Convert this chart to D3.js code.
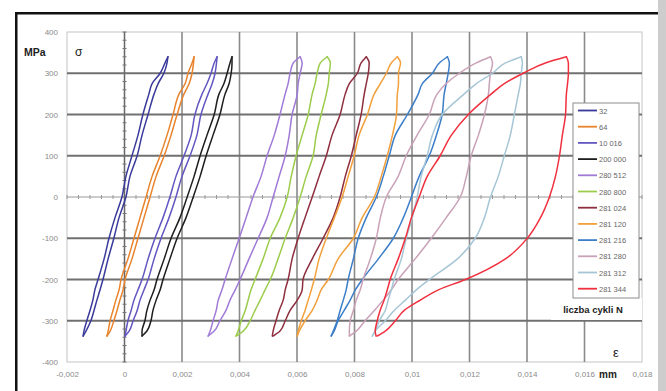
<!DOCTYPE html>
<html><head><meta charset="utf-8">
<script src="https://cdn.jsdelivr.net/npm/d3@7"></script>
<style>body{margin:0;background:#fff}svg{display:block}text{font-family:"Liberation Sans",Arial,sans-serif}</style>
</head><body><svg id="c" width="666" height="391"></svg>
<script>
// ---- data (strain in mm/mm, stress in MPa) ----
const stressLevels = [-337, -325, -300, -275, -250, -225, -200, -150, -100, -50, 0, 50, 100, 150, 200, 250, 275, 300, 325, 340];
const cycles = ["32", "64", "10 016", "200 000", "280 512", "280 800", "281 024", "281 120", "281 216", "281 280", "281 312", "281 344"];
const colors = ["#3a3a9c", "#e8842c", "#6256c0", "#1e1e1e", "#a07ad6", "#9ccc4c", "#8e2e3e", "#f2a03c", "#3c7ec8", "#c9a2b8", "#a6c6d6", "#f0303e"];

const load32   = [-0.00144, -0.00134, -0.00117, -0.00106, -0.00096, -0.00085, -0.00075, -0.00057, -0.00037, -0.00019, 0.00005, 0.00019, 0.00044, 0.00061, 0.00082, 0.00103, 0.00117, 0.00137, 0.00148, 0.00151];
const unload32 = [-0.00144, -0.00141, -0.00131, -0.00120, -0.00110, -0.00103, -0.00092, -0.00071, -0.00054, -0.00033, -0.00009, 0.00005, 0.00026, 0.00047, 0.00064, 0.00085, 0.00096, 0.00124, 0.00141, 0.00151];
const load64   = [-0.00061, -0.00050, -0.00037, -0.00026, -0.00016, -0.00005, 0.00002, 0.00026, 0.00047, 0.00068, 0.00089, 0.00110, 0.00138, 0.00162, 0.00183, 0.00207, 0.00225, 0.00235, 0.00240, 0.00242];
const unload64 = [-0.00061, -0.00057, -0.00050, -0.00040, -0.00030, -0.00019, -0.00012, 0.00012, 0.00033, 0.00054, 0.00075, 0.00096, 0.00124, 0.00148, 0.00169, 0.00190, 0.00211, 0.00221, 0.00235, 0.00242];
const load10016   = [0.00002, 0.00016, 0.00030, 0.00044, 0.00054, 0.00068, 0.00082, 0.00103, 0.00127, 0.00155, 0.00179, 0.00200, 0.00228, 0.00252, 0.00266, 0.00291, 0.00305, 0.00315, 0.00320, 0.00322];
const unload10016 = [0.00002, 0.00005, 0.00012, 0.00023, 0.00033, 0.00047, 0.00061, 0.00082, 0.00106, 0.00134, 0.00158, 0.00179, 0.00207, 0.00232, 0.00245, 0.00270, 0.00287, 0.00301, 0.00312, 0.00322];
const load200000   = [0.00061, 0.00078, 0.00092, 0.00099, 0.00110, 0.00124, 0.00134, 0.00158, 0.00183, 0.00214, 0.00239, 0.00263, 0.00284, 0.00308, 0.00332, 0.00350, 0.00364, 0.00371, 0.00374, 0.00374];
const unload200000 = [0.00061, 0.00061, 0.00071, 0.00078, 0.00089, 0.00103, 0.00113, 0.00138, 0.00162, 0.00193, 0.00218, 0.00242, 0.00263, 0.00287, 0.00312, 0.00329, 0.00346, 0.00357, 0.00367, 0.00374];
const load280512   = [0.00291, 0.00312, 0.00332, 0.00353, 0.00367, 0.00385, 0.00402, 0.00433, 0.00465, 0.00496, 0.00517, 0.00538, 0.00559, 0.00573, 0.00583, 0.00601, 0.00604, 0.00611, 0.00618, 0.00611];
const unload280512 = [0.00291, 0.00298, 0.00308, 0.00319, 0.00326, 0.00339, 0.00350, 0.00374, 0.00399, 0.00423, 0.00447, 0.00475, 0.00496, 0.00521, 0.00541, 0.00559, 0.00569, 0.00576, 0.00587, 0.00611];
const load280800   = [0.00388, 0.00413, 0.00437, 0.00454, 0.00472, 0.00489, 0.00507, 0.00534, 0.00559, 0.00587, 0.00611, 0.00632, 0.00656, 0.00667, 0.00684, 0.00702, 0.00709, 0.00712, 0.00716, 0.00705];
const unload280800 = [0.00388, 0.00395, 0.00406, 0.00420, 0.00430, 0.00440, 0.00454, 0.00482, 0.00507, 0.00541, 0.00566, 0.00580, 0.00597, 0.00618, 0.00639, 0.00653, 0.00663, 0.00670, 0.00681, 0.00705];
const load281024   = [0.00517, 0.00541, 0.00559, 0.00576, 0.00601, 0.00618, 0.00621, 0.00653, 0.00691, 0.00726, 0.00750, 0.00768, 0.00789, 0.00806, 0.00823, 0.00834, 0.00841, 0.00848, 0.00851, 0.00841];
const unload281024 = [0.00514, 0.00517, 0.00527, 0.00538, 0.00552, 0.00559, 0.00569, 0.00583, 0.00604, 0.00628, 0.00653, 0.00677, 0.00702, 0.00722, 0.00750, 0.00768, 0.00782, 0.00810, 0.00823, 0.00841];
const load281120   = [0.00601, 0.00608, 0.00628, 0.00653, 0.00670, 0.00684, 0.00709, 0.00743, 0.00796, 0.00827, 0.00869, 0.00893, 0.00914, 0.00932, 0.00946, 0.00949, 0.00953, 0.00953, 0.00960, 0.00949];
const unload281120 = [0.00601, 0.00604, 0.00615, 0.00628, 0.00639, 0.00650, 0.00660, 0.00677, 0.00702, 0.00730, 0.00757, 0.00778, 0.00799, 0.00816, 0.00845, 0.00869, 0.00890, 0.00911, 0.00928, 0.00949];
const load281216   = [0.00719, 0.00729, 0.00743, 0.00764, 0.00785, 0.00803, 0.00827, 0.00883, 0.00935, 0.00970, 0.00998, 0.01025, 0.01060, 0.01085, 0.01105, 0.01112, 0.01119, 0.01126, 0.01130, 0.01123];
const unload281216 = [0.00719, 0.00726, 0.00740, 0.00750, 0.00761, 0.00771, 0.00778, 0.00796, 0.00813, 0.00841, 0.00876, 0.00900, 0.00921, 0.00942, 0.00984, 0.01022, 0.01036, 0.01071, 0.01095, 0.01123];
const load281280   = [0.00782, 0.00806, 0.00837, 0.00869, 0.00900, 0.00928, 0.00952, 0.01011, 0.01067, 0.01119, 0.01168, 0.01189, 0.01206, 0.01231, 0.01252, 0.01266, 0.01269, 0.01273, 0.01280, 0.01273];
const unload281280 = [0.00782, 0.00782, 0.00785, 0.00796, 0.00806, 0.00820, 0.00830, 0.00855, 0.00876, 0.00890, 0.00911, 0.00952, 0.00980, 0.01018, 0.01060, 0.01088, 0.01119, 0.01165, 0.01224, 0.01273];
const load281312   = [0.00862, 0.00872, 0.00907, 0.00938, 0.00977, 0.01015, 0.01060, 0.01158, 0.01220, 0.01252, 0.01273, 0.01300, 0.01321, 0.01342, 0.01356, 0.01370, 0.01377, 0.01380, 0.01384, 0.01380];
const unload281312 = [0.00862, 0.00872, 0.00886, 0.00907, 0.00917, 0.00928, 0.00938, 0.00963, 0.00980, 0.01001, 0.01018, 0.01032, 0.01053, 0.01071, 0.01105, 0.01182, 0.01224, 0.01280, 0.01325, 0.01380];
const load281344   = [0.00879, 0.00907, 0.00942, 0.00973, 0.01029, 0.01092, 0.01186, 0.01325, 0.01401, 0.01447, 0.01478, 0.01499, 0.01513, 0.01523, 0.01534, 0.01537, 0.01541, 0.01544, 0.01544, 0.01537];
const unload281344 = [0.00875, 0.00872, 0.00879, 0.00889, 0.00903, 0.00914, 0.00924, 0.00952, 0.00977, 0.00998, 0.01025, 0.01053, 0.01098, 0.01137, 0.01196, 0.01276, 0.01321, 0.01387, 0.01464, 0.01537];

const xTickValues = [-0.002, 0, 0.002, 0.004, 0.006, 0.008, 0.01, 0.012, 0.014, 0.016, 0.018];
const xTickLabels = ["-0,002", "0", "0,002", "0,004", "0,006", "0,008", "0,01", "0,012", "0,014", "0,016", "0,018"];
const yTickValues = [400, 300, 200, 100, 0, -100, -200, -300, -400];
const yTickLabels = ["400", "300", "200", "100", "0", "-100", "-200", "-300", "-400"];

const loads = [load32, load64, load10016, load200000, load280512, load280800, load281024, load281120, load281216, load281280, load281312, load281344];
const unloads = [unload32, unload64, unload10016, unload200000, unload280512, unload280800, unload281024, unload281120, unload281216, unload281280, unload281312, unload281344];

// ---- drawing ----
const svg = d3.select("#c");
const W = 666, H = 391;
const L = 67, R = 642, T = 32, B = 362;
const x = d3.scaleLinear().domain([-0.002, 0.018]).range([L, R]);
const y = d3.scaleLinear().domain([-400, 400]).range([B, T]);

svg.append("rect").attr("width", W).attr("height", H).attr("fill", "#fff");
// outer frame
svg.append("rect").attr("x", 658).attr("y", 0).attr("width", 8).attr("height", H).attr("fill", "#cdcdcd");
svg.append("rect").attr("x", 15).attr("y", 12).attr("width", 643).attr("height", 2.5).attr("fill", "#111");
svg.append("rect").attr("x", 15).attr("y", 12).attr("width", 2.5).attr("height", H - 12).attr("fill", "#111");

// plot border
svg.append("rect").attr("x", L).attr("y", T).attr("width", R - L).attr("height", B - T)
  .attr("fill", "none").attr("stroke", "#c4c4c4").attr("stroke-width", 1);

// grid
const g = svg.append("g");
g.selectAll("line.v").data(xTickValues.filter(v => v !== 0 && v > -0.002 && v < 0.018)).join("line")
  .attr("x1", d => x(d)).attr("x2", d => x(d)).attr("y1", T).attr("y2", B)
  .attr("stroke", "#8a8a8a").attr("stroke-width", 1.6);
g.selectAll("line.h").data(yTickValues.filter(v => v !== 0 && Math.abs(v) < 400)).join("line")
  .attr("x1", L).attr("x2", R).attr("y1", d => y(d)).attr("y2", d => y(d))
  .attr("stroke", "#707070").attr("stroke-width", 2);

// zero axes with minor ticks
svg.append("line").attr("x1", L).attr("x2", R).attr("y1", y(0)).attr("y2", y(0)).attr("stroke", "#9a9a9a").attr("stroke-width", 1.2);
svg.selectAll("line.mx").data(d3.range(-0.002, 0.0181, 0.0004)).join("line")
  .attr("x1", d => x(d)).attr("x2", d => x(d)).attr("y1", y(0) - 2).attr("y2", y(0) + 2)
  .attr("stroke", "#999").attr("stroke-width", 1);
svg.append("line").attr("x1", x(0)).attr("x2", x(0)).attr("y1", T).attr("y2", B).attr("stroke", "#666").attr("stroke-width", 1.5);
svg.selectAll("line.my").data(d3.range(-400, 401, 20)).join("line")
  .attr("x1", x(0) - 2).attr("x2", x(0) + 2).attr("y1", d => y(d)).attr("y2", d => y(d))
  .attr("stroke", "#777").attr("stroke-width", 1);

// axes labels
const yAxis = d3.axisLeft(y).tickValues(yTickValues).tickFormat((d, i) => yTickLabels[i]).tickSize(0).tickPadding(9);
const ya = svg.append("g").attr("transform", `translate(${L},0)`).call(yAxis);
ya.select(".domain").remove();
ya.selectAll("text").attr("fill", "#8a8a8a").attr("font-size", 8).style("font-family", '"Liberation Sans",Arial,sans-serif');

const xAxis = d3.axisBottom(x).tickValues(xTickValues).tickFormat((d, i) => xTickLabels[i]).tickSize(0).tickPadding(9);
const xa = svg.append("g").attr("transform", `translate(0,${B})`).call(xAxis);
xa.select(".domain").remove();
xa.selectAll("text").attr("fill", "#8a8a8a").attr("font-size", 8).style("font-family", '"Liberation Sans",Arial,sans-serif');

// loops
const line = d3.line().x(d => x(d[0])).y(d => y(d[1])).curve(d3.curveMonotoneY);
const lg = svg.append("g").attr("fill", "none").attr("stroke-linejoin", "round").attr("stroke-linecap", "round");
cycles.forEach((c, i) => {
  const up = loads[i].map((e, k) => [e, stressLevels[k]]);
  const down = unloads[i].map((e, k) => [e, stressLevels[k]]);
  lg.append("path").attr("d", line(up)).attr("stroke", colors[i]).attr("stroke-width", 1.5);
  lg.append("path").attr("d", line(down)).attr("stroke", colors[i]).attr("stroke-width", 1.5);
});

// legend
const lx = 573, ly = 103, lw = 66, lh = 195;
svg.append("rect").attr("x", 551).attr("y", 298).attr("width", R - 551).attr("height", 22).attr("fill", "#fff");
svg.append("rect").attr("x", lx).attr("y", ly).attr("width", lw).attr("height", lh).attr("fill", "#fff").attr("stroke", "#8c8c8c").attr("stroke-width", 1);
const rows = svg.selectAll("g.leg").data(cycles).join("g").attr("transform", (d, i) => `translate(${lx},${ly + 7.5 + i * 16.2})`);
rows.append("line").attr("x1", 5).attr("x2", 24).attr("y1", 0).attr("y2", 0).attr("stroke", (d, i) => colors[i]).attr("stroke-width", 1.8);
rows.append("text").attr("x", 26).attr("y", 3).attr("font-size", 7.5).attr("fill", "#666").text(d => d);
svg.append("text").attr("x", 593).attr("y", 313).attr("text-anchor", "middle").attr("font-size", 9.5).attr("font-weight", "bold").attr("fill", "#222").text("liczba cykli N");

// unit and symbol labels
svg.append("text").attr("x", 24).attr("y", 56).attr("font-size", 10.5).attr("font-weight", "bold").attr("fill", "#222").text("MPa");
svg.append("text").attr("x", 75).attr("y", 56).attr("font-size", 12).attr("fill", "#222").text("σ");
svg.append("text").attr("x", 613).attr("y", 357).attr("font-size", 13).attr("fill", "#222").text("ε");
svg.append("text").attr("x", 599).attr("y", 378).attr("font-size", 10).attr("font-weight", "bold").attr("fill", "#222").text("mm");
</script></body></html>
